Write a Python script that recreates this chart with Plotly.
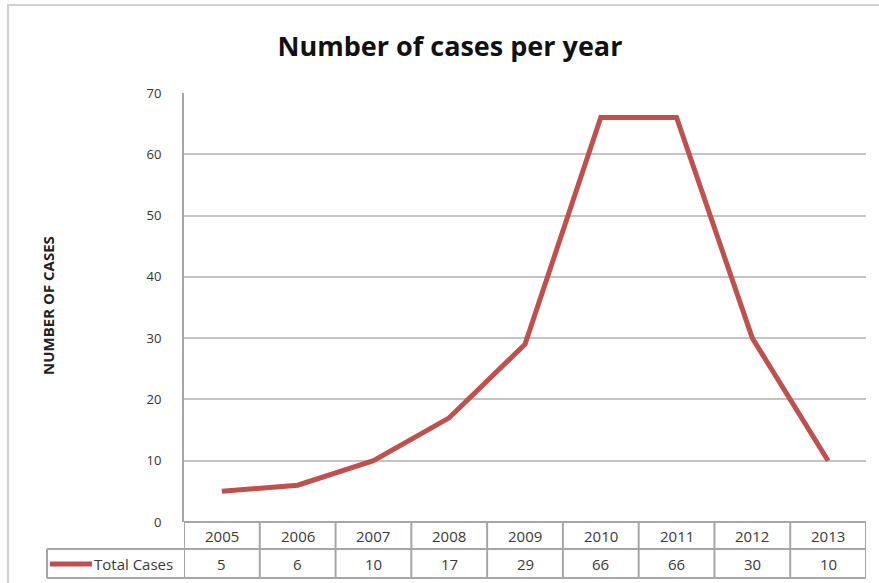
import plotly.graph_objects as go

years = ["2005", "2006", "2007", "2008", "2009", "2010", "2011", "2012", "2013"]
total_cases = [5, 6, 10, 17, 29, 66, 66, 30, 10]
series_name = "Total Cases"
title_text = "Number of cases per year"
y_title = "NUMBER OF CASES"
y_ticks = [0, 10, 20, 30, 40, 50, 60, 70]

W, H = 879, 583
L, R, T, B = 184, 13, 93, 61
pw = W - L - R
ph = H - T - B

def px_x(px):
    return (px - L) / pw

def px_y(py):
    return (H - B - py) / ph

LINE_COLOR = "#c0504d"
GRID = "#c4c4c4"
TBL = "#a6a6a6"
FONT = "'Open Sans', Lato, sans-serif"

fig = go.Figure()
fig.add_trace(go.Scatter(
    x=list(range(len(years))), y=total_cases, mode="lines", name=series_name,
    line=dict(color=LINE_COLOR, width=5), showlegend=False, hoverinfo="x+y",
))

shapes = []
annotations = []
n = len(years)
row1 = px_y(549)
row2 = px_y(578)

for i in range(n + 1):
    shapes.append(dict(type="line", xref="x", yref="paper", x0=i - 0.5, x1=i - 0.5,
                       y0=0, y1=row2, line=dict(color=TBL, width=2), layer="above"))
shapes.append(dict(type="line", xref="paper", yref="paper", x0=px_x(47), x1=1,
                   y0=row1, y1=row1, line=dict(color=TBL, width=2)))
shapes.append(dict(type="line", xref="paper", yref="paper", x0=px_x(47), x1=1,
                   y0=row2, y1=row2, line=dict(color=TBL, width=2)))
shapes.append(dict(type="line", xref="paper", yref="paper", x0=px_x(47), x1=px_x(47),
                   y0=row1, y1=row2, line=dict(color=TBL, width=2)))
shapes.append(dict(type="line", xref="paper", yref="paper", x0=0, x1=1,
                   y0=0, y1=0, line=dict(color=TBL, width=2)))
shapes.append(dict(type="line", xref="paper", yref="paper", x0=px_x(50), x1=px_x(92),
                   y0=px_y(564), y1=px_y(564), line=dict(color=LINE_COLOR, width=5)))
shapes.append(dict(type="rect", xref="paper", yref="paper", x0=px_x(8), x1=px_x(895),
                   y0=px_y(600), y1=px_y(5), line=dict(color="#d0d0d0", width=2)))

TXT = dict(size=15, color="#3a3a3a", family=FONT)
for i, (yr, v) in enumerate(zip(years, total_cases)):
    annotations.append(dict(x=i, y=px_y(536), xref="x", yref="paper", text=yr,
                            xanchor="center", yanchor="middle", showarrow=False, font=TXT))
    annotations.append(dict(x=i, y=px_y(564), xref="x", yref="paper", text=str(v),
                            xanchor="center", yanchor="middle", showarrow=False, font=TXT))
annotations.append(dict(x=px_x(92), y=px_y(564), xref="paper", yref="paper", text=series_name,
                        xanchor="left", yanchor="middle", showarrow=False, font=TXT))
annotations.append(dict(x=px_x(48), y=px_y(306), xref="paper", yref="paper", text="<b>" + y_title + "</b>",
                        textangle=-90, xanchor="center", yanchor="middle", showarrow=False,
                        font=dict(size=15, color="#222222", family=FONT)))

fig.update_layout(
    width=W, height=H,
    margin=dict(l=L, r=R, t=T, b=B),
    paper_bgcolor="white", plot_bgcolor="white",
    title=dict(text="<b>" + title_text + "</b>", x=px_x(450),
               xref="paper", y=1 - 47 / H, yref="container", xanchor="center", yanchor="middle",
               font=dict(size=27, color="#111111", family=FONT)),
    xaxis=dict(range=[-0.5, n - 0.5], showticklabels=False, showgrid=False,
               zeroline=False, showline=False, fixedrange=True),
    yaxis=dict(range=[0, 70], tickvals=y_ticks, showgrid=True, gridcolor=GRID, gridwidth=2,
               zeroline=False, showline=True, linecolor=TBL, linewidth=2,
               tickfont=dict(size=13, color="#333333", family=FONT),
               ticks="", ticklabelstandoff=18),
    shapes=shapes, annotations=annotations,
    showlegend=False,
)

fig.write_html("out.html", config={"displayModeBar": False},
               post_script="document.body.style.margin='0';document.body.style.overflow='hidden';")
